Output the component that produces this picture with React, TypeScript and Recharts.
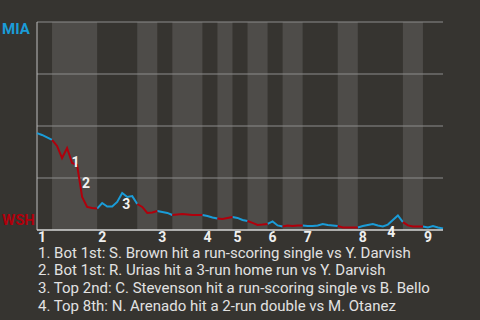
import React from 'react';
import {
  LineChart,
  Line,
  XAxis,
  YAxis,
  ReferenceArea,
  ReferenceLine,
  ReferenceDot,
} from 'recharts';

// MIA win probability (%) after each event
const winProb = [
  46.6, 45.7, 44.5, 43.3, 40.4, 34.6, 39.4, 32.2, 31.3, 15.9,
  11.1, 10.6, 10.3, 13.0, 11.3, 11.3, 13.5, 17.8, 15.9, 16.3,
  12.5, 11.1, 8.2, 8.4, 9.1, 8.7, 8.2, 7.2, 7.5, 7.7,
  7.5, 7.2, 7.2, 7.2, 6.7, 6.0, 5.5, 5.3, 5.8, 6.3,
  5.8, 4.8, 4.3, 3.4, 2.4, 2.6, 2.9, 4.1, 2.2, 1.7,
  2.2, 1.9, 2.2, 2.2, 1.9, 1.9, 2.2, 2.9, 2.4, 2.2,
  1.9, 1.2, 1.2, 1.2, 1.2, 1.9, 2.4, 2.9, 2.2, 1.7,
  2.6, 4.8, 7.0, 3.8, 2.2, 1.7, 1.7, 1.7, 1.2, 1.9,
  1.2, 0.7,
];

// event index where each half inning starts (top 1st, bot 1st, top 2nd ...)
const halfStarts = [0, 3, 12, 20, 24, 27, 33, 36, 39, 42, 46, 49, 53, 60, 64, 73, 77];
const innings = ['1', '2', '3', '4', '5', '6', '7', '8', '9'];

const notes = [
  'Bot 1st: S. Brown hit a run-scoring single vs Y. Darvish',
  'Bot 1st: R. Urias hit a 3-run home run vs Y. Darvish',
  'Top 2nd: C. Stevenson hit a run-scoring single vs B. Bello',
  'Top 8th: N. Arenado hit a 2-run double vs M. Otanez',
];
const noteX = [7.7, 9.8, 17.8, 70.7];
const noteY = [32.9, 22.5, 12.5, -1.2];

const lastEvent = winProb.length - 1;
const halfEnd = (h: number) => (h + 1 < halfStarts.length ? halfStarts[h + 1] : lastEvent);

const data = winProb.map((v, i) => {
  let top: number | null = null;
  let bot: number | null = null;
  halfStarts.forEach((s, h) => {
    if (i >= s && i <= halfEnd(h)) {
      if (h % 2 === 0) top = v;
      else bot = v;
    }
  });
  return { x: i, top, bot };
});

const inningTicks = halfStarts.filter((_, h) => h % 2 === 0);

const BG = '#363430';
const BAND = '#4e4c49';
const BLUE = '#1a9cd8';
const RED = '#b0000c';
const FONT = 'Roboto, "Noto Sans", sans-serif';

const InningTick = (props: any) => {
  const { x, y, index } = props;
  return (
    <text x={x + 1} y={y + 12} textAnchor="start" fill="#efefef" fontSize={14} fontWeight={700} fontFamily={FONT}>
      {innings[index]}
    </text>
  );
};

export default function App() {
  return (
    <div style={{ position: 'fixed', left: 0, top: 0, width: 480, height: 320, background: BG, overflow: 'hidden' }}>
      <div style={{ position: 'absolute', left: 2, top: 20, color: BLUE, font: `700 15px ${FONT}` }}>MIA</div>
      <div style={{ position: 'absolute', left: 2, top: 211, color: RED, font: `700 15px ${FONT}` }}>WSH</div>
      <div style={{ position: 'absolute', left: 0, top: 0 }}>
        <LineChart width={480} height={250} data={data} margin={{ top: 22, right: 37, left: 37, bottom: 0 }}>
          <XAxis
            dataKey="x"
            type="number"
            domain={[0, lastEvent]}
            ticks={inningTicks}
            interval={0}
            tickLine={false}
            tickSize={0}
            tickMargin={0}
            height={20}
            axisLine={{ stroke: '#d6d6d6', strokeWidth: 1.5 }}
            tick={<InningTick />}
          />
          <YAxis type="number" domain={[0, 100]} hide />
          {halfStarts.map((s, h) =>
            h % 2 === 1 ? (
              <ReferenceArea key={`b${h}`} x1={s} x2={halfEnd(h)} y1={0} y2={100} fill={BAND} fillOpacity={1} stroke="none" />
            ) : null
          )}
          {[25, 50, 75, 100].map((v) => (
            <ReferenceLine key={`g${v}`} y={v} stroke="#8c8c8c" strokeWidth={1} />
          ))}
          <ReferenceLine x={0} stroke="#bdbdbd" strokeWidth={1} />
          <Line dataKey="top" type="linear" stroke={BLUE} strokeWidth={2} dot={false} isAnimationActive={false} connectNulls={false} />
          <Line dataKey="bot" type="linear" stroke={RED} strokeWidth={2} dot={false} isAnimationActive={false} connectNulls={false} />
          {notes.map((_, k) => (
            <ReferenceDot
              key={`n${k}`}
              x={noteX[k]}
              y={noteY[k]}
              ifOverflow="visible"
              shape={(p: any) => (
                <text x={p.cx} y={p.cy + 5} textAnchor="middle" fill="#f2f2f2" fontSize={14} fontWeight={700} fontFamily={FONT}>
                  {k + 1}
                </text>
              )}
            />
          ))}
        </LineChart>
      </div>
      {notes.map((t, k) => (
        <div
          key={k}
          style={{
            position: 'absolute',
            left: 38,
            top: 245.7 + k * 17.6,
            color: '#e2e2e2',
            font: `400 15px ${FONT}`,
            lineHeight: '15px',
            whiteSpace: 'nowrap',
          }}
        >
          {`${k + 1}. ${t}`}
        </div>
      ))}
    </div>
  );
}
